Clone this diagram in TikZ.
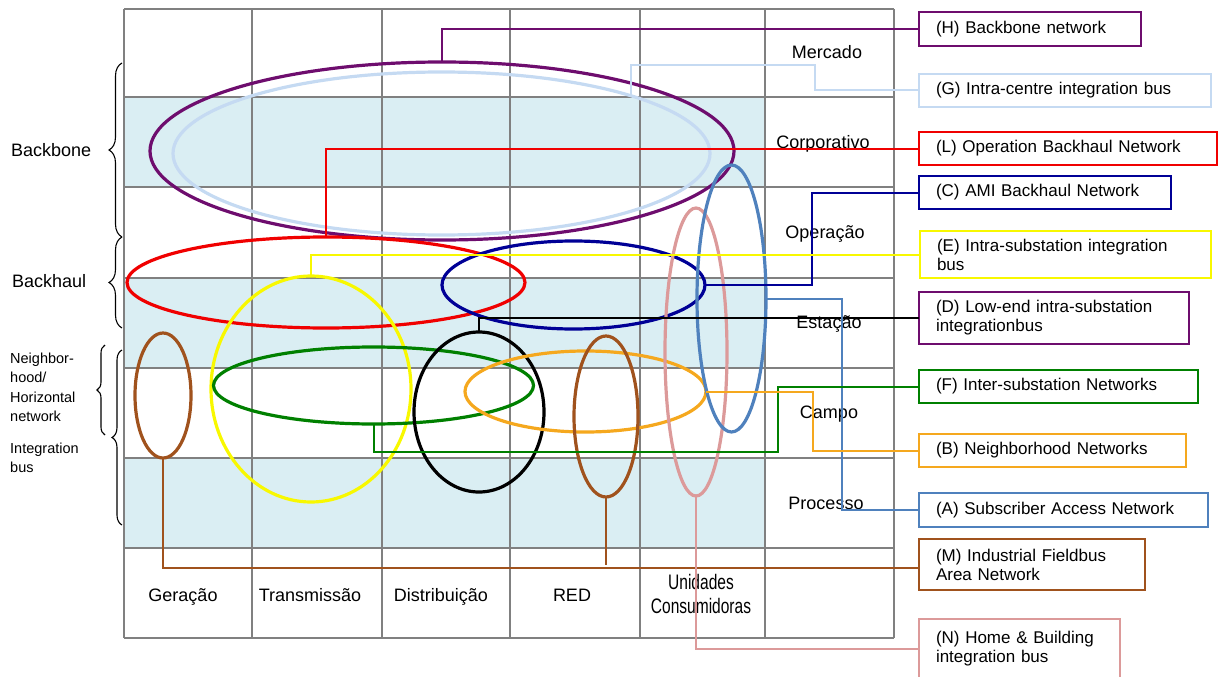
\documentclass[tikz,border=0pt]{standalone}
\usepackage{fontspec}
\usepackage{graphicx}
\setmainfont{Liberation Sans}
\usetikzlibrary{shapes.geometric,decorations.pathreplacing}
\definecolor{gridline}{HTML}{808080}
\definecolor{bandfill}{HTML}{DAEEF3}
\definecolor{cH}{HTML}{6E0D6E}
\definecolor{cG}{HTML}{C5DAF2}
\definecolor{cL}{HTML}{F00000}
\definecolor{cC}{HTML}{000096}
\definecolor{cE}{HTML}{F8F800}
\definecolor{cD}{HTML}{000000}
\definecolor{cF}{HTML}{008000}
\definecolor{cB}{HTML}{F5A81E}
\definecolor{cM}{HTML}{A0521D}
\definecolor{cN}{HTML}{DC9A9A}
\definecolor{cA}{HTML}{4F81BD}
\newcommand{\narrowtext}[1]{\scalebox{0.74}[1]{#1}}
\begin{document}
\begin{tikzpicture}[x=1pt,y=-1pt,
  net/.style={ellipse, draw=#1, line width=3.2pt, inner sep=0pt, outer sep=0pt},
  link/.style={draw=#1, line width=2pt},
  legbox/.style={draw=#1, line width=2.6pt, anchor=north west, inner xsep=17pt,
    inner ysep=0pt, outer sep=0pt, align=left, font=\fontsize{17}{19}\selectfont},
  lbl/.style={inner sep=0pt, font=\fontsize{18}{21}\selectfont},
  smalllbl/.style={inner sep=0pt, anchor=north west, align=left,
    font=\fontsize{14.5}{19.5}\selectfont},
  sidebrace/.style={decorate, decoration={brace, amplitude=#1}, line width=1.1pt},
]
\useasboundingbox (0,0) rectangle (1219,677);
\clip (0,0) rectangle (1219,677);

% shaded bands of the layer grid
\fill[bandfill] (124,97) rectangle (765,187);
\fill[bandfill] (124,278) rectangle (765,368);
\fill[bandfill] (124,458) rectangle (765,548);

% grid lines
\foreach \x in {124,252,382,510,640,765,894}
  \draw[gridline, line width=2pt] (\x,9) -- (\x,638);
\foreach \y in {9,97,187,278,368,458,548,638}
  \draw[gridline, line width=2pt] (124,\y) -- (894,\y);

% layer names
\node[lbl, anchor=base] (rMercado) at (827,59) {Mercado};
\node[lbl, anchor=base] (rCorp) at (823,148) {Corporativo};
\node[lbl, anchor=base] (rOper) at (825,238) {Operação};
\node[lbl, anchor=base] (rEstacao) at (829,328) {Estação};
\node[lbl, anchor=base] (rCampo) at (829,418) {Campo};
\node[lbl, anchor=base] (rProc) at (826,509) {Processo};

% domain names
\node[lbl, anchor=base] (cGer) at (183,601) {Geração};
\node[lbl, anchor=base] (cTrans) at (310,601) {Transmissão};
\node[lbl, anchor=base] (cDist) at (441,601) {Distribuição};
\node[lbl, anchor=base] (cRed) at (572,601) {RED};
\node[inner sep=0pt, anchor=north, align=center,
  font=\fontsize{21}{24}\selectfont] (cUni) at (701,574) {\narrowtext{Unidades}\\\narrowtext{Consumidoras}};

% side labels and braces
\node[lbl, anchor=base west] (lBackbone) at (11,156) {Backbone};
\node[lbl, anchor=base west] (lBackhaul) at (12,287) {Backhaul};
\node[smalllbl] (lNeigh) at (10,352.5) {Neighbor-\\hood/\\Horizontal\\network};
\node[smalllbl] (lInteg) at (10,442.5) {Integration\\bus};
\draw[sidebrace=13] (122,237) -- (122,63);
\draw[sidebrace=13] (122,328) -- (122,237);
\draw[sidebrace=8] (105,435) -- (105,345);
\draw[sidebrace=10] (122,525) -- (122,350);

% network ellipses
\node[net=cH, minimum width=584pt, minimum height=178pt] (Hell) at (442,151) {};
\node[net=cG, minimum width=537pt, minimum height=163pt] (Gell) at (441.5,153.5) {};
\node[net=cL, minimum width=398pt, minimum height=91pt] (Lell) at (326,282.5) {};
\node[net=cE, minimum width=200pt, minimum height=226pt] (Eell) at (311,389) {};
\node[net=cF, minimum width=320pt, minimum height=77pt] (Fell) at (373.5,385.5) {};
\node[net=cD, minimum width=130pt, minimum height=160pt] (Dell) at (479,412) {};
\node[net=cC, minimum width=263pt, minimum height=88pt] (Cell) at (573.5,285) {};
\node[net=cB, minimum width=241pt, minimum height=81pt] (Bell) at (585.5,391.5) {};
\node[net=cM, minimum width=56pt, minimum height=125pt] (Mell1) at (163,395.5) {};
\node[net=cM, minimum width=64pt, minimum height=161pt] (Mell2) at (606,416.5) {};
\node[net=cN, minimum width=62pt, minimum height=288pt] (Nell) at (696,352) {};
\node[net=cA, minimum width=69pt, minimum height=267pt] (Aell) at (731.5,298.5) {};

% legend boxes
\node[legbox=cH, minimum width=222pt, minimum height=34pt, text width=188pt] (Hbox) at (919,12) {(H) Backbone network};
\node[legbox=cG, minimum width=292pt, minimum height=33pt, text width=258pt] (Gbox) at (919,74) {(G) Intra-centre integration bus};
\node[legbox=cL, minimum width=298pt, minimum height=33pt, text width=264pt] (Lbox) at (919,132) {(L) Operation Backhaul Network};
\node[legbox=cC, minimum width=252pt, minimum height=33pt, text width=218pt] (Cbox) at (919,176) {(C) AMI Backhaul Network};
\node[legbox=cE, minimum width=291pt, minimum height=47pt, text width=257pt] (Ebox) at (920,231) {(E) Intra-substation integration\\bus};
\node[legbox=cH, minimum width=270pt, minimum height=52pt, text width=236pt] (Dbox) at (919,292) {(D) Low-end intra-substation\\integrationbus};
\node[legbox=cF, minimum width=279pt, minimum height=33pt, text width=245pt] (Fbox) at (919,370) {(F) Inter-substation Networks};
\node[legbox=cB, minimum width=267pt, minimum height=33pt, text width=233pt] (Bbox) at (919,434) {(B) Neighborhood Networks};
\node[legbox=cA, minimum width=289pt, minimum height=34pt, text width=255pt] (Abox) at (919,493) {(A) Subscriber Access Network};
\node[legbox=cM, minimum width=226pt, minimum height=51pt, text width=192pt] (Mbox) at (919,539) {(M) Industrial Fieldbus\\Area Network};
\node[legbox=cN, minimum width=201pt, minimum height=60pt, text width=167pt] (Nbox) at (919,619) {(N) Home \& Building\\integration bus};

% connectors from each network to its legend entry
\draw[link=cH] (Hell.north) |- (Hbox.west);
\draw[link=cG] (Gell.17) |- (815,65) |- (Gbox.west);
\draw[link=cL] (Lell.north) |- (Lbox.west);
\draw[link=cC] (Cell.east) -- ++(107,0) |- (Cbox.west);
\draw[link=cE] (Eell.north) |- (Ebox.west);
\draw[link=cD] (Dell.north) |- (Dbox.west);
\draw[link=cA] (Aell.east) -- ++(76,0) |- (Abox.west);
\draw[link=cF] (Fell.south) |- (778,452) |- (Fbox.west);
\draw[link=cB] (Bell.east) -- ++(107,0) |- (Bbox.west);
\draw[link=cM] (Mell1.south) |- ([yshift=-3.5pt]Mbox.west);
\draw[link=cM] (Mell2.south) -- (Mell2.south |- Mbox.west) ++(0,3.5);
\draw[link=cN] (Nell.south) |- (Nbox.west);
\end{tikzpicture}
\end{document}
